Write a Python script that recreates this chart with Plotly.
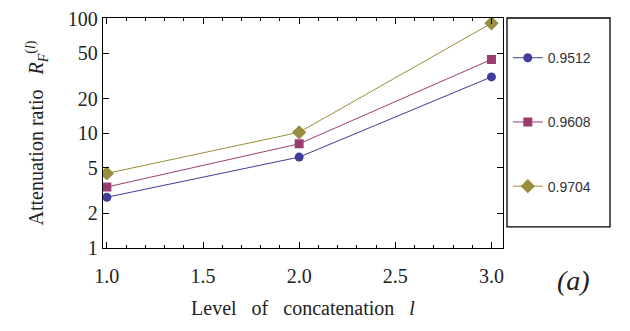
import plotly.graph_objects as go

# Level of concatenation
levels = [1.0, 2.0, 3.0]

# Attenuation ratio for each fidelity value
series_names = ["0.9512", "0.9608", "0.9704"]
ratio_09512 = [2.77, 6.2, 31.0]
ratio_09608 = [3.4, 8.1, 44.0]
ratio_09704 = [4.47, 10.2, 91.0]

y_tickvals = [1, 2, 5, 10, 20, 50, 100]
x_tickvals = [1.0, 1.5, 2.0, 2.5, 3.0]

colors = ["#3f3d99", "#993d71", "#998e3d"]
symbols = ["circle", "square", "diamond"]
sizes = [9, 9, 11]

serif = "Liberation Serif, Times New Roman, serif"

fig = go.Figure()
for i, (name, vals) in enumerate(zip(series_names, [ratio_09512, ratio_09608, ratio_09704])):
    fig.add_trace(go.Scatter(
        x=levels, y=vals, name=name, legendgroup=name,
        mode="lines+markers",
        line=dict(color=colors[i], width=1),
        marker=dict(color=colors[i], symbol=symbols[i], size=sizes[i]),
    ))

fig.update_layout(
    width=630, height=331,
    margin=dict(l=103, r=127, t=8, b=83),
    paper_bgcolor="white", plot_bgcolor="white",
    showlegend=True,
    legend=dict(
        x=1.012, xanchor="left", y=0.895, yanchor="top",
        font=dict(family="Liberation Sans, Arial, sans-serif", size=14, color="#333"),
        bgcolor="rgba(0,0,0,0)", borderwidth=0,
        tracegroupgap=43, itemwidth=30,
    ),
    shapes=[dict(
        type="rect", xref="x domain", yref="y domain",
        x0=1.01, x1=1.2675, y0=0.092, y1=1.0,
        line=dict(color="black", width=1.3), fillcolor="rgba(0,0,0,0)",
    )],
    annotations=[dict(
        text="<i>(a)</i>", xref="paper", yref="paper",
        x=1.175, y=-0.14, xanchor="center", yanchor="middle",
        showarrow=False, font=dict(family=serif, size=28, color="#222"),
    )],
)

fig.update_xaxes(
    range=[0.98, 3.06],
    tickvals=x_tickvals, ticktext=[f"{v:.1f}" for v in x_tickvals],
    ticks="inside", ticklen=6, tickcolor="black",
    minor=dict(ticks="inside", dtick=0.1, ticklen=3, tickcolor="black"),
    showline=True, linecolor="black", linewidth=1.3, mirror="ticks",
    showgrid=False, zeroline=False,
    ticklabelstandoff=10,
    tickfont=dict(family=serif, size=20, color="#222"),
    title=dict(text="Level   of   concatenation   <i>l</i>", standoff=14,
               font=dict(family=serif, size=20, color="#222")),
)

fig.update_yaxes(
    type="log", range=[0, 2.005],
    tickvals=y_tickvals, ticktext=[str(v) for v in y_tickvals],
    ticks="inside", ticklen=6, tickcolor="black",
    showline=True, linecolor="black", linewidth=1.3, mirror="ticks",
    showgrid=False, zeroline=False,
    ticklabeloverflow="allow",
    tickfont=dict(family=serif, size=20, color="#222"),
    title=dict(text="Attenuation ratio   <i>R</i><sub><i>F</i></sub><sup>(<i>l</i>)</sup>",
               standoff=18, font=dict(family=serif, size=20, color="#222")),
)

fig.write_html("out.html")
